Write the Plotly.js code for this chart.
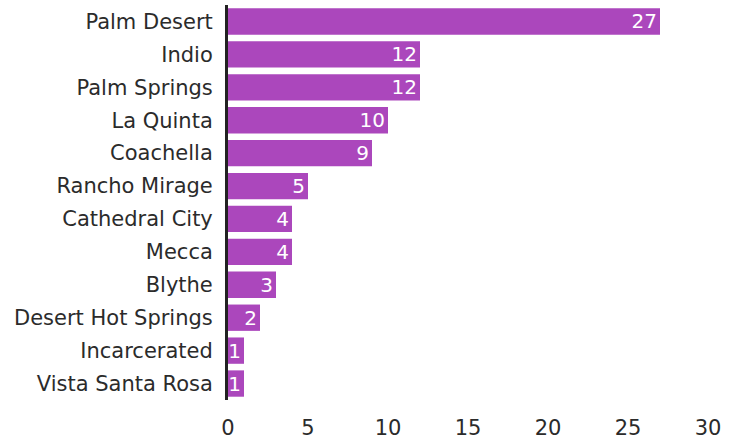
<!DOCTYPE html>
<html><head><meta charset="utf-8">
<script src="https://cdn.plot.ly/plotly-3.0.1.min.js"></script>
<style>html,body{margin:0;padding:0;background:#fff}</style>
</head><body>
<div id="chart" style="width:739px;height:440px"></div>
<script>
const cities = ["Palm Desert","Indio","Palm Springs","La Quinta","Coachella","Rancho Mirage","Cathedral City","Mecca","Blythe","Desert Hot Springs","Incarcerated","Vista Santa Rosa"];
const counts = [27,12,12,10,9,5,4,4,3,2,1,1];
const xTicks = [0,5,10,15,20,25,30];

const FONT = 'DejaVu Sans, sans-serif';
Plotly.newPlot('chart', [{
  type: 'bar',
  orientation: 'h',
  y: cities,
  x: counts,
  text: counts.map(String),
  textposition: 'inside',
  insidetextanchor: 'end',
  textangle: 0,
  constraintext: 'none',
  cliponaxis: false,
  textfont: {color: '#fff', size: 20, family: FONT},
  marker: {color: '#AB47BC'},
  hoverinfo: 'none'
}], {
  width: 739, height: 440,
  margin: {l: 228, r: 31, t: 5, b: 40},
  paper_bgcolor: '#fff', plot_bgcolor: '#fff',
  font: {family: FONT, size: 21, color: '#2b2b2b'},
  bargap: 0.2,
  showlegend: false,
  xaxis: {range: [0, 30], tickvals: xTicks, ticktext: xTicks.map(String), showgrid: false, zeroline: false, showline: false, ticks: '', ticklabelstandoff: 13, fixedrange: true},
  yaxis: {autorange: 'reversed', showgrid: false, zeroline: false, showline: true, linecolor: '#222', linewidth: 3, ticks: '', ticklabelstandoff: 8, fixedrange: true}
}, {displayModeBar: false, staticPlot: true});
</script>
</body></html>
